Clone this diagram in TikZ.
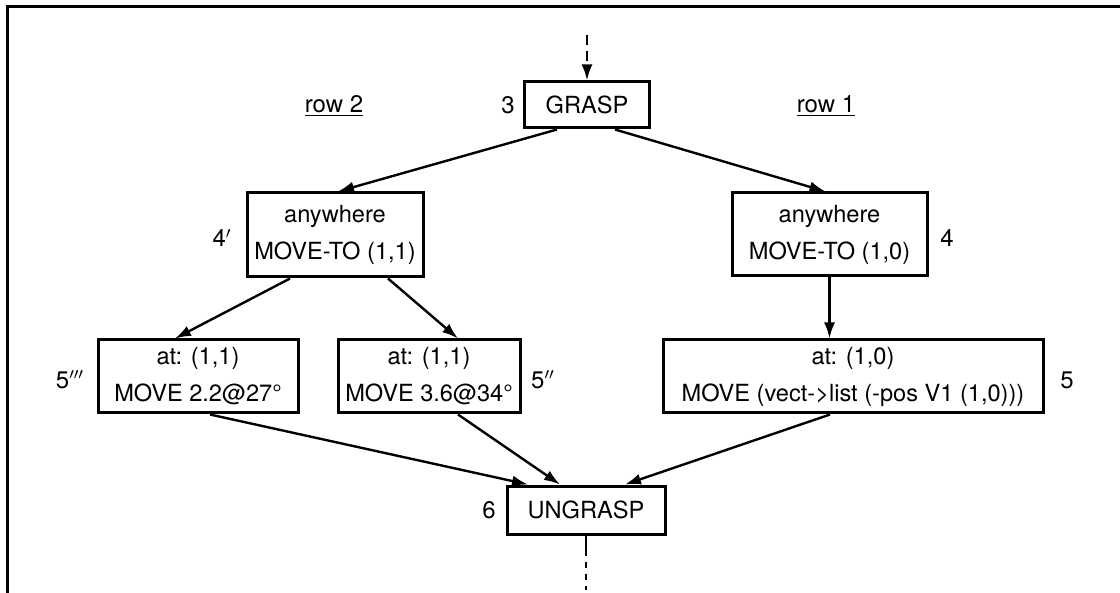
\documentclass[tikz,border=0pt]{standalone}
\usepackage{fontspec}
\setmainfont{TeX Gyre Heros}
\usetikzlibrary{positioning,arrows.meta,calc}

\begin{document}
\begin{tikzpicture}[x=0.5pt, y=-0.5pt,
		op/.style={draw, line width=1.5pt, inner sep=0pt, align=center,
			font=\fontsize{11.8}{18.5}\selectfont},
		num/.style={font=\fontsize{12}{14}\selectfont},
		arr/.style={-{Latex[length=8pt,width=5.5pt]}, line width=1.2pt},
		dots/.style={line width=1.2pt, dash pattern=on 5pt off 3pt}]
		\useasboundingbox (0,0) rectangle (1120,593);
		\draw[line width=1.5pt] (7,593) -- (7,7) -- (1120,7);
		% top step
		\node[op, minimum width=62.5pt, minimum height=23pt] (grasp) at (587,105) {GRASP};
		\node[num] (ngrasp) at (508,105) {3};
		\coordinate (in) at (587,35);
		\node[num] (rowtwo) at (334,106) {\underline{row 2}};
		\node[num] (rowone) at (826,106) {\underline{row 1}};
		% move-to steps
		\node[op, minimum width=88pt, minimum height=42pt] (lany) at (335,235)
			{anywhere\\MOVE-TO (1,1)};
		\node[num] (nlany) at (222,238) {4$'$};
		\node[op, minimum width=97.5pt, minimum height=41.5pt] (rany) at (829.5,234.5)
			{anywhere\\MOVE-TO (1,0)};
		\node[num] (nrany) at (947,238) {4};
		% move steps
		\node[op, minimum width=100pt, minimum height=36.5pt] (lat) at (198,376.5)
			{at: (1,1)\\MOVE 2.2@27°};
		\node[num] (nlat) at (70,380) {5$'''$};
		\node[op, minimum width=91pt, minimum height=36.5pt] (mat) at (429,376.5)
			{at: (1,1)\\MOVE 3.6@34°};
		\node[num] (nmat) at (543,380) {5$''$};
		\node[op, minimum width=190pt, minimum height=36.5pt] (rat) at (853,376.5)
			{at: (1,0)\\MOVE (vect->list (-pos V1 (1,0)))};
		\node[num] (nrat) at (1067,380) {5};
		% bottom step
		\node[op, minimum width=79pt, minimum height=24pt] (ungrasp) at (586,510) {UNGRASP};
		\node[num] (nungrasp) at (489,510) {6};
		\coordinate (out) at (586,590);
		% connectors
		\draw[arr, dots] (in) -- (grasp);
		\draw[arr] ($(grasp.south)+(-30,0)$) -- ($(lany.north)+(3,0)$);
		\draw[arr] ($(grasp.south)+(28,0)$) -- ($(rany.north)+(-4,0)$);
		\draw[arr] ($(lany.south)+(-45,0)$) -- ($(lat.north)+(-23,0)$);
		\draw[arr] ($(lany.south)+(53,0)$) -- ($(mat.north)+(29,0)$);
		\draw[arr] (rany.south) -- (rany.south |- rat.north);
		\draw[arr] ($(lat.south)+(12,0)$) -- ($(ungrasp.north)+(-58,0)$);
		\draw[arr] ($(mat.south)+(29,0)$) -- ($(ungrasp.north)+(-26,0)$);
		\draw[arr] ($(rat.south)+(-23,0)$) -- ($(ungrasp.north)+(39,0)$);
		\draw[line width=1.2pt, dash pattern=on 10pt off 3pt on 3pt off 3pt on 3pt off 3pt]
			(ungrasp) -- (out);
	\end{tikzpicture}
\end{document}
